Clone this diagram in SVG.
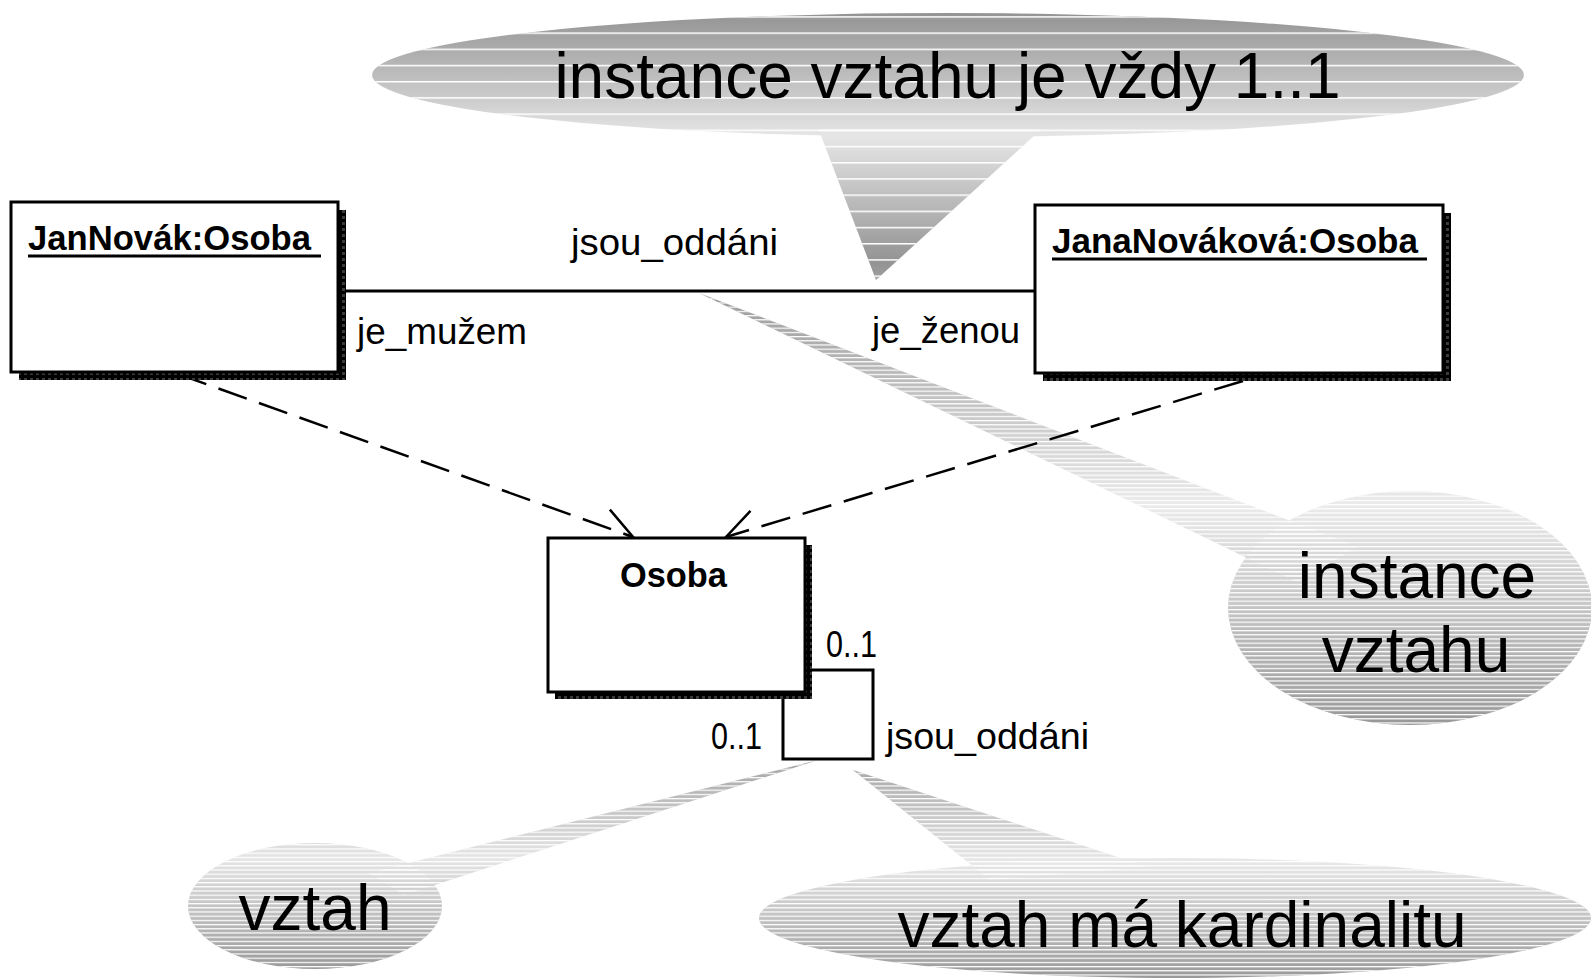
<svg xmlns="http://www.w3.org/2000/svg" width="1591" height="980" viewBox="0 0 1591 980">
  <style>
    .lbl{font-family:"Liberation Sans",Arial,sans-serif;font-size:36px;fill:#000}
    .ttl{font-family:"Liberation Sans",Arial,sans-serif;font-weight:bold;font-size:35px;fill:#000}
    .call{font-family:"Liberation Sans",Arial,sans-serif;font-size:64px;fill:#000}
    .box{fill:#fff;stroke:#000;stroke-width:3}
    .shadow{fill:url(#dither)}
    .conn{stroke:#000;stroke-width:3;fill:none}
    .dep{stroke:#000;stroke-width:2.5;stroke-dasharray:30 13;fill:none;marker-end:url(#openArrow)}
    .uline{stroke:#000;stroke-width:3}
  </style>
  <defs>
    <!-- banded grey fills of the callouts -->
    <linearGradient id="gTop" gradientUnits="userSpaceOnUse" x1="0" y1="137" x2="0" y2="12" spreadMethod="reflect">
      <stop offset="0" stop-color="#e6e6e6"/>
      <stop offset="1" stop-color="#939393"/>
    </linearGradient>
    <linearGradient id="gInst" gradientUnits="userSpaceOnUse" x1="0" y1="505" x2="0" y2="725" spreadMethod="reflect">
      <stop offset="0" stop-color="#ebebeb"/>
      <stop offset="1" stop-color="#989898"/>
    </linearGradient>
    <linearGradient id="gVztah" gradientUnits="userSpaceOnUse" x1="0" y1="858" x2="0" y2="970" spreadMethod="reflect">
      <stop offset="0" stop-color="#e6e6e6"/>
      <stop offset="1" stop-color="#999"/>
    </linearGradient>
    <linearGradient id="gKard" gradientUnits="userSpaceOnUse" x1="0" y1="862" x2="0" y2="978" spreadMethod="reflect">
      <stop offset="0" stop-color="#e8e8e8"/>
      <stop offset="1" stop-color="#999"/>
    </linearGradient>
    <pattern id="stripesWide" width="20" height="16.2" patternUnits="userSpaceOnUse">
      <rect width="20" height="1.5" fill="#fff"/>
    </pattern>
    <pattern id="stripesFine" width="20" height="4.2" patternUnits="userSpaceOnUse">
      <rect width="20" height="1.2" fill="#fff"/>
    </pattern>
    <!-- dithered drop shadow of the boxes -->
    <pattern id="dither" width="6" height="6" patternUnits="userSpaceOnUse">
      <rect width="6" height="6" fill="#000"/>
      <rect width="3" height="3" fill="#3a3a3a"/>
    </pattern>
    <marker id="openArrow" markerUnits="userSpaceOnUse" markerWidth="40" markerHeight="40" viewBox="-35 -20 40 40" refX="0" refY="0" orient="auto" overflow="visible">
      <path d="M-31,-18 L0,0 L-31,18" fill="none" stroke="#000" stroke-width="2.5"/>
    </marker>
  </defs>

  <!-- callouts -->
  <g id="callout-instance-1-1">
    <ellipse cx="948" cy="75" rx="576" ry="62" fill="url(#gTop)"/>
    <polygon points="817,125 1046,125 876,280" fill="url(#gTop)"/>
    <ellipse cx="948" cy="75" rx="576" ry="62" fill="url(#stripesWide)"/>
    <polygon points="817,125 1046,125 876,280" fill="url(#stripesWide)"/>
    <text class="call" x="947.5" y="98" text-anchor="middle">instance vztahu je vždy 1..1</text>
  </g>

  <g id="callout-instance-vztahu">
    <ellipse cx="1410" cy="608" rx="182" ry="117" fill="url(#gInst)"/>
    <polygon points="699,293 1358,547 1297,582" fill="url(#gInst)"/>
    <ellipse cx="1410" cy="608" rx="182" ry="117" fill="url(#stripesFine)"/>
    <polygon points="699,293 1358,547 1297,582" fill="url(#stripesFine)"/>
    <text class="call" x="1417" y="598" text-anchor="middle">instance</text>
    <text class="call" x="1416" y="672" text-anchor="middle">vztahu</text>
  </g>

  <g id="callout-vztah">
    <ellipse cx="315" cy="906" rx="127" ry="63" fill="url(#gVztah)"/>
    <polygon points="818,760 369,873 404,895" fill="url(#gVztah)"/>
    <ellipse cx="315" cy="906" rx="127" ry="63" fill="url(#stripesFine)"/>
    <polygon points="818,760 369,873 404,895" fill="url(#stripesFine)"/>
    <text class="call" x="315" y="930" text-anchor="middle">vztah</text>
  </g>

  <g id="callout-kardinalita">
    <ellipse cx="1175" cy="918" rx="416" ry="60" fill="url(#gKard)"/>
    <polygon points="853,770 990,880 1148,867" fill="url(#gKard)"/>
    <ellipse cx="1175" cy="918" rx="416" ry="60" fill="url(#stripesFine)"/>
    <polygon points="853,770 990,880 1148,867" fill="url(#stripesFine)"/>
    <text class="call" x="1182" y="947" text-anchor="middle">vztah má kardinalitu</text>
  </g>

  <!-- connectors -->
  <g id="connectors">
    <line class="conn" x1="338" y1="291" x2="1035" y2="291"/>
    <path class="conn" d="M805,670 H873 V759 H783 V692"/>
    <line class="dep" x1="178" y1="374" x2="633" y2="537"/>
    <line class="dep" x1="1243" y1="381" x2="726" y2="537"/>
    <text class="lbl" x="571" y="255" textLength="207" lengthAdjust="spacingAndGlyphs">jsou_oddáni</text>
    <text class="lbl" x="357" y="344" textLength="170" lengthAdjust="spacingAndGlyphs">je_mužem</text>
    <text class="lbl" x="872" y="343" textLength="148" lengthAdjust="spacingAndGlyphs">je_ženou</text>
    <text class="lbl" x="826" y="657" textLength="51" lengthAdjust="spacingAndGlyphs">0..1</text>
    <text class="lbl" x="711" y="749" textLength="51" lengthAdjust="spacingAndGlyphs">0..1</text>
    <text class="lbl" x="886" y="749" textLength="203" lengthAdjust="spacingAndGlyphs">jsou_oddáni</text>
  </g>

  <!-- nodes -->
  <g id="jan-novak">
    <rect class="shadow" x="19" y="210" width="327" height="170"/>
    <rect class="box" x="11" y="202" width="327" height="170"/>
    <text class="ttl" x="28" y="250" textLength="283" lengthAdjust="spacingAndGlyphs">JanNovák:Osoba</text>
    <line class="uline" x1="28" y1="256" x2="321" y2="256"/>
  </g>

  <g id="jana-novakova">
    <rect class="shadow" x="1043" y="213" width="408" height="168"/>
    <rect class="box" x="1035" y="205" width="408" height="168"/>
    <text class="ttl" x="1052" y="253" textLength="366" lengthAdjust="spacingAndGlyphs">JanaNováková:Osoba</text>
    <line class="uline" x1="1052" y1="259" x2="1427" y2="259"/>
  </g>

  <g id="osoba">
    <rect class="shadow" x="555" y="545" width="257" height="154"/>
    <rect class="box" x="548" y="538" width="257" height="154"/>
    <text class="ttl" x="620" y="587" textLength="107" lengthAdjust="spacingAndGlyphs">Osoba</text>
  </g>
</svg>
